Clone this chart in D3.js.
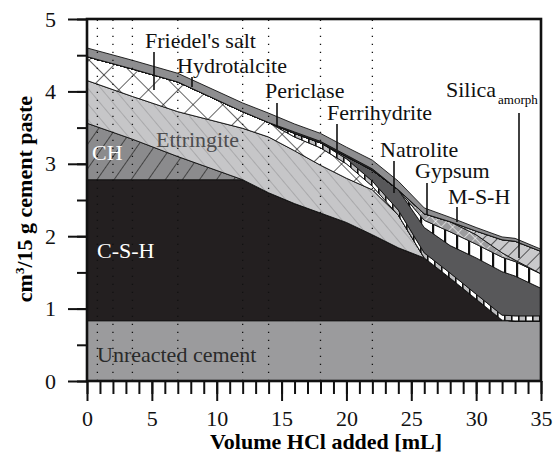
<!DOCTYPE html>
<html>
<head>
<meta charset="utf-8">
<script src="https://cdn.jsdelivr.net/npm/d3@7"></script>
<style>
  body { margin: 0; background: #fff; }
  text { font-family: "Liberation Serif", "Times New Roman", serif; }
</style>
</head>
<body>
<div id="chart"></div>
<script>
// volume of HCl added (mL)
var volume = [0, 3.5, 7, 12, 14, 16, 18, 20, 22, 24, 26, 28, 30, 32, 33, 35];

// phase volumes, cm3 per 15 g paste (stacked, bottom to top)
var unreacted    = [0.83, 0.83, 0.83, 0.83, 0.83, 0.83, 0.83, 0.83, 0.83, 0.83, 0.83, 0.83, 0.83, 0.83, 0.83, 0.83];
var csh          = [1.95, 1.95, 1.95, 1.95, 1.77, 1.62, 1.49, 1.36, 1.19, 1.01, 0.87, 0.59, 0.30, 0.01, 0, 0];
var ch           = [0.78, 0.56, 0.32, 0, 0, 0, 0, 0, 0, 0, 0, 0, 0, 0, 0, 0];
var ettringite   = [0.59, 0.59, 0.62, 0.71, 0.77, 0.73, 0.66, 0.61, 0.62, 0.45, 0, 0, 0, 0, 0, 0];
var friedel      = [0.33, 0.38, 0.41, 0.23, 0.20, 0.19, 0.24, 0.20, 0.05, 0, 0, 0, 0, 0, 0, 0];
var ferrihydrite = [0, 0, 0, 0, 0, 0.05, 0.07, 0.07, 0.07, 0.07, 0.07, 0.07, 0.07, 0.07, 0.07, 0.07];
var natrolite    = [0, 0, 0, 0, 0, 0, 0, 0.03, 0.15, 0.28, 0.35, 0.38, 0.50, 0.60, 0.55, 0.38];
var gypsum       = [0, 0, 0, 0, 0, 0, 0, 0, 0, 0, 0.10, 0.19, 0.19, 0.20, 0.20, 0.20];
var msh          = [0, 0, 0, 0, 0, 0, 0, 0, 0, 0, 0.09, 0.14, 0.13, 0.06, 0.02, 0];
var silica       = [0, 0, 0, 0, 0, 0, 0, 0, 0, 0, 0, 0, 0.05, 0.18, 0.26, 0.31];
var periclase    = [0, 0, 0, 0, 0, 0.02, 0.02, 0.02, 0.02, 0, 0, 0, 0, 0, 0, 0];
var hydrotalcite = [0.12, 0.12, 0.12, 0.12, 0.13, 0.11, 0.11, 0.11, 0.12, 0.12, 0.08, 0.06, 0.05, 0.04, 0.04, 0.03];

// sampling steps (dotted lines) and tick labels
var steps = [0.8, 2, 3.5, 7, 12, 14, 18, 22];
var xTicks = [0, 5, 10, 15, 20, 25, 30, 35];
var yTicks = [0, 1, 2, 3, 4, 5];

var keys = ["unreacted", "csh", "ch", "ettringite", "friedel", "ferrihydrite",
  "natrolite", "gypsum", "msh", "silica", "periclase", "hydrotalcite"];
var series = {
  unreacted: unreacted, csh: csh, ch: ch, ettringite: ettringite, friedel: friedel,
  ferrihydrite: ferrihydrite, natrolite: natrolite, gypsum: gypsum, msh: msh,
  silica: silica, periclase: periclase, hydrotalcite: hydrotalcite
};

var rows = volume.map(function(v, i) {
  var r = {volume: v};
  keys.forEach(function(k) { r[k] = series[k][i]; });
  return r;
});

var w = 555, h = 461;
var x = d3.scaleLinear().domain([0, 35]).range([87, 541]);
var y = d3.scaleLinear().domain([0, 5]).range([381, 19]);

var svg = d3.select("#chart").append("svg")
  .attr("width", w)
  .attr("height", h);

var defs = svg.append("defs");

// line hatch: lines of given colour on a background, rotated
function hatch(id, bg, color, size, lw, angle) {
  var p = defs.append("pattern")
    .attr("id", id)
    .attr("patternUnits", "userSpaceOnUse")
    .attr("width", size).attr("height", size)
    .attr("patternTransform", "rotate(" + angle + ")");
  p.append("rect").attr("width", size).attr("height", size).attr("fill", bg);
  p.append("line").attr("x1", 0).attr("y1", 0).attr("x2", 0).attr("y2", size)
    .attr("stroke", color).attr("stroke-width", lw);
  return p;
}

hatch("pCH", "#8b8b8d", "#111", 14, 1.2, 35);
hatch("pEtt", "#c6c6c8", "#8c8c8e", 10, 1, -40);
hatch("pSil", "#c9c9cb", "#111", 10, 1.3, 45);

var fr = hatch("pFriedel", "#fff", "#111", 21, 1.3, 45);
fr.append("line").attr("x1", 0).attr("y1", 0).attr("x2", 21).attr("y2", 0)
  .attr("stroke", "#111").attr("stroke-width", 1.3);

var ms = hatch("pMSH", "#9c9c9e", "#fff", 8, 1.2, 45);
ms.append("line").attr("x1", 0).attr("y1", 0).attr("x2", 8).attr("y2", 0)
  .attr("stroke", "#fff").attr("stroke-width", 1.2);

var gy = defs.append("pattern").attr("id", "pGyp")
  .attr("patternUnits", "userSpaceOnUse").attr("width", 12).attr("height", 12);
gy.append("rect").attr("width", 12).attr("height", 12).attr("fill", "#fff");
gy.append("rect").attr("x", 0).attr("width", 2.2).attr("height", 12).attr("fill", "#111");

var fe = defs.append("pattern").attr("id", "pFerri")
  .attr("patternUnits", "userSpaceOnUse").attr("width", 14).attr("height", 14);
fe.append("rect").attr("width", 7).attr("height", 14).attr("fill", "#bdbdbf");
fe.append("rect").attr("x", 7).attr("width", 7).attr("height", 14).attr("fill", "#fff");
fe.append("rect").attr("x", 0).attr("width", 1.6).attr("height", 14).attr("fill", "#111");
fe.append("rect").attr("x", 7).attr("width", 1.6).attr("height", 14).attr("fill", "#111");

var fills = {
  unreacted: "#9b9b9d",
  csh: "#231f20",
  ch: "url(#pCH)",
  ettringite: "url(#pEtt)",
  friedel: "url(#pFriedel)",
  ferrihydrite: "url(#pFerri)",
  natrolite: "#58585a",
  gypsum: "url(#pGyp)",
  msh: "url(#pMSH)",
  silica: "url(#pSil)",
  periclase: "#3c3c3e",
  hydrotalcite: "#8e8e90"
};

var stack = d3.stack().keys(keys);
var layers = stack(rows);

var area = d3.area()
  .x(function(d) { return x(d.data.volume); })
  .y0(function(d) { return y(d[0]); })
  .y1(function(d) { return y(d[1]); });

svg.append("g").selectAll("path")
  .data(layers)
  .enter().append("path")
  .attr("d", area)
  .attr("fill", function(d) { return fills[d.key]; })
  .attr("stroke", "#111")
  .attr("stroke-width", function(d) { return d.key === "unreacted" ? 0 : 0.9; })
  .attr("stroke-linejoin", "round");

// dotted lines at the sampled volumes
svg.append("g").selectAll("line")
  .data(steps)
  .enter().append("line")
  .attr("x1", function(d) { return x(d); })
  .attr("x2", function(d) { return x(d); })
  .attr("y1", y(0))
  .attr("y2", y(5))
  .attr("stroke", "#111")
  .attr("stroke-width", 1.3)
  .attr("stroke-dasharray", "1.3,6.7");

// axes
var xMinor = d3.range(0, 36, 1);
var yMinor = d3.range(0, 5.01, 0.5);

var gxm = svg.append("g").attr("transform", "translate(0," + y(0) + ")")
  .call(d3.axisBottom(x).tickValues(xMinor).tickSize(13).tickFormat(""));
var gx = svg.append("g").attr("transform", "translate(0," + y(0) + ")")
  .call(d3.axisBottom(x).tickValues(xTicks).tickSize(20).tickPadding(9).tickFormat(d3.format("d")));
var gym = svg.append("g").attr("transform", "translate(" + x(0) + ",0)")
  .call(d3.axisLeft(y).tickValues(yMinor).tickSize(10).tickFormat(""));
var gy2 = svg.append("g").attr("transform", "translate(" + x(0) + ",0)")
  .call(d3.axisLeft(y).tickValues(yTicks).tickSize(19).tickPadding(12).tickFormat(d3.format("d")));

[gxm, gx, gym, gy2].forEach(function(g) {
  g.select(".domain").remove();
  g.selectAll("line").attr("stroke", "#111").attr("stroke-width", 2);
  g.selectAll("text").attr("fill", "#111").style("font-size", "22px")
    .style("font-family", "'Liberation Serif', serif");
});

// frame
svg.append("rect")
  .attr("x", x(0)).attr("y", y(5))
  .attr("width", x(35) - x(0)).attr("height", y(0) - y(5))
  .attr("fill", "none").attr("stroke", "#111").attr("stroke-width", 2.6);

// axis titles
svg.append("text")
  .attr("x", 326).attr("y", 449)
  .attr("text-anchor", "middle")
  .style("font-size", "22px").style("font-weight", "bold")
  .text("Volume HCl added [mL]");

var yt = svg.append("text")
  .attr("transform", "translate(32,199) rotate(-90)")
  .attr("text-anchor", "middle")
  .style("font-size", "22px").style("font-weight", "bold");
yt.append("tspan").text("cm");
yt.append("tspan").attr("dy", -8).style("font-size", "13px").text("3");
yt.append("tspan").attr("dy", 8).text("/15 g cement paste");

// phase labels
var labels = [
  {text: "Friedel's salt", x: 145, y: 48, fill: "#111", line: [154, 52, 90]},
  {text: "Hydrotalcite", x: 177, y: 73, fill: "#111", line: [192, 77, 87]},
  {text: "Periclase", x: 265, y: 98, fill: "#111", line: [277, 103, 127]},
  {text: "Ferrihydrite", x: 327, y: 120, fill: "#111", line: [337, 124, 150]},
  {text: "Natrolite", x: 380, y: 157, fill: "#111", line: [394, 161, 193]},
  {text: "Gypsum", x: 415, y: 178, fill: "#111", line: [427, 183, 215]},
  {text: "M-S-H", x: 448, y: 204, fill: "#111", line: [457, 207, 222]},
  {text: "Silica", x: 446, y: 97, fill: "#111", line: [519, 113, 258]},
  {text: "Ettringite", x: 156, y: 147, fill: "#4d4d4f"},
  {text: "CH", x: 92, y: 160, fill: "#fff"},
  {text: "C-S-H", x: 97, y: 258, fill: "#fff"},
  {text: "Unreacted cement", x: 97, y: 362, fill: "#2a2a2a"}
];

var lg = svg.append("g");
labels.forEach(function(l) {
  lg.append("text")
    .attr("x", l.x).attr("y", l.y)
    .attr("fill", l.fill)
    .style("font-size", "22px")
    .text(l.text);
  if (l.line) {
    lg.append("line")
      .attr("x1", l.line[0]).attr("x2", l.line[0])
      .attr("y1", l.line[1]).attr("y2", l.line[2])
      .attr("stroke", "#111").attr("stroke-width", 1.6);
  }
});

lg.append("text")
  .attr("x", 498).attr("y", 104)
  .style("font-size", "13px")
  .text("amorph");
</script>
</body>
</html>
